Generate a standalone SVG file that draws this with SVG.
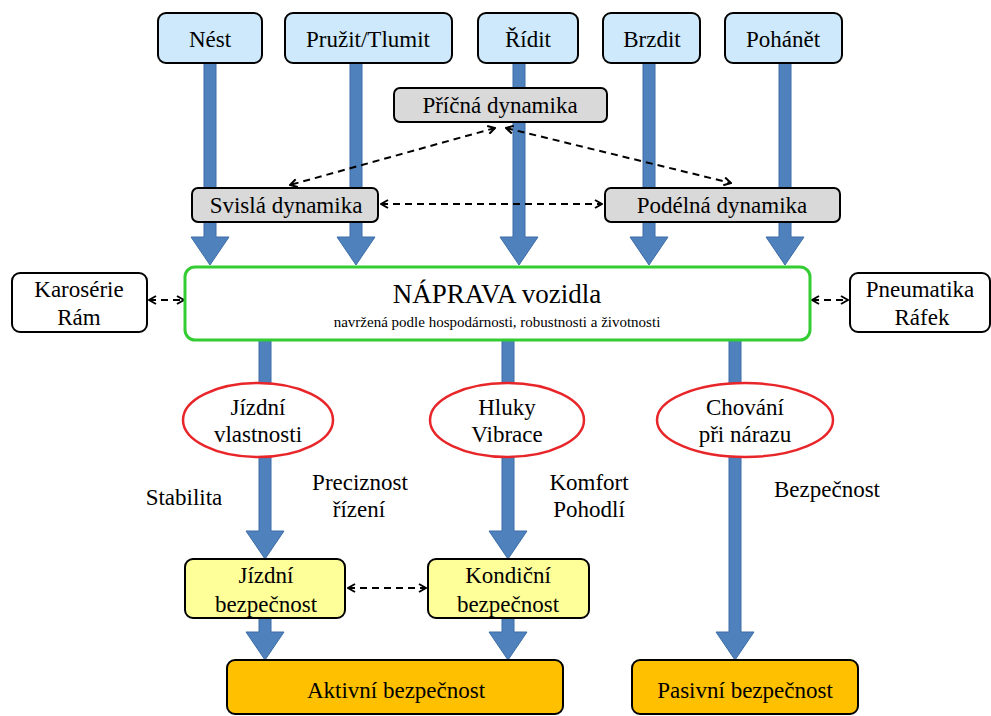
<svg xmlns="http://www.w3.org/2000/svg" width="991" height="716" viewBox="0 0 991 716">
<defs>
<marker id="ah" viewBox="0 0 10 10" refX="9" refY="5" markerWidth="10" markerHeight="10" orient="auto-start-reverse" markerUnits="userSpaceOnUse">
<path d="M2,1 L9,5 L2,9" fill="none" stroke="#000" stroke-width="2"/>
</marker>
</defs>
<rect width="991" height="716" fill="#fff"/>
<g id="connectors">
<g fill="#4f81bd" stroke="#3d6da6" stroke-width="1">
<path d="M204,63 h12 v174 h13 l-19,28 l-19,-28 h13 z"/>
<path d="M350,63 h12 v174 h13 l-19,28 l-19,-28 h13 z"/>
<path d="M513,63 h12 v174 h13 l-19,28 l-19,-28 h13 z"/>
<path d="M643,63 h12 v174 h13 l-19,28 l-19,-28 h13 z"/>
<path d="M779,63 h12 v174 h13 l-19,28 l-19,-28 h13 z"/>
<path d="M259,340 h12 v191 h13 l-19,28 l-19,-28 h13 z"/>
<path d="M502,340 h12 v191 h13 l-19,28 l-19,-28 h13 z"/>
<path d="M729,340 h12 v292 h13 l-19,28 l-19,-28 h13 z"/>
<path d="M259,618 h12 v14 h13 l-19,28 l-19,-28 h13 z"/>
<path d="M502,618 h12 v14 h13 l-19,28 l-19,-28 h13 z"/>
</g>
<g fill="none" stroke="#000" stroke-width="2" stroke-dasharray="7 5" marker-start="url(#ah)" marker-end="url(#ah)">
<path d="M495,128 L290,185"/>
<path d="M506,128 L731,183"/>
<path d="M381,204 L602,204"/>
<path d="M149,300 L184,300"/>
<path d="M812,300 L848,300"/>
<path d="M348,588 L426,588"/>
</g>
</g>
<g font-family="Liberation Serif" font-size="23" text-anchor="middle" fill="#000" stroke-width="2">
<g id="nest"><rect fill="#cde9fb" stroke="#000" x="158" y="13" width="104" height="50" rx="8"/><text x="210" y="47">Nést</text></g>
<g id="pruzit"><rect fill="#cde9fb" stroke="#000" x="285" y="13" width="167" height="50" rx="8"/><text x="368" y="47">Pružit/Tlumit</text></g>
<g id="ridit"><rect fill="#cde9fb" stroke="#000" x="478" y="13" width="100" height="50" rx="8"/><text x="528" y="47">Řídit</text></g>
<g id="brzdit"><rect fill="#cde9fb" stroke="#000" x="603" y="13" width="97" height="50" rx="8"/><text x="652" y="47">Brzdit</text></g>
<g id="pohanet"><rect fill="#cde9fb" stroke="#000" x="725" y="13" width="117" height="50" rx="8"/><text x="783" y="47">Pohánět</text></g>
<g id="pricna"><rect fill="#d9d9d9" stroke="#000" x="394" y="88" width="213" height="34" rx="6"/><text x="500" y="113">Příčná dynamika</text></g>
<g id="svisla"><rect fill="#d9d9d9" stroke="#000" x="192" y="188" width="186" height="34" rx="6"/><text x="286" y="213">Svislá dynamika</text></g>
<g id="podelna"><rect fill="#d9d9d9" stroke="#000" x="605" y="188" width="235" height="34" rx="6"/><text x="722" y="213">Podélná dynamika</text></g>
<g id="naprava"><rect x="185" y="267" width="625" height="73" rx="10" fill="#fff" stroke="#33cc33" stroke-width="3"/><text x="497" y="303" font-size="27">NÁPRAVA vozidla</text><text x="497" y="327" font-size="15">navržená podle hospodárnosti, robustnosti a životnosti</text></g>
<g id="karoserie"><rect fill="#fff" stroke="#000" x="12" y="273" width="135" height="59" rx="8"/><text x="79" y="297">Karosérie</text><text x="79" y="325">Rám</text></g>
<g id="pneumatika"><rect fill="#fff" stroke="#000" x="850" y="273" width="140" height="59" rx="8"/><text x="920" y="297">Pneumatika</text><text x="922" y="325">Ráfek</text></g>
<g id="jizdni-vlastnosti"><ellipse fill="#fff" stroke="#e8262a" stroke-width="2.5" cx="258" cy="420" rx="75" ry="37"/><text x="258" y="415">Jízdní</text><text x="258" y="442">vlastnosti</text></g>
<g id="hluky"><ellipse fill="#fff" stroke="#e8262a" stroke-width="2.5" cx="507" cy="420" rx="77" ry="37"/><text x="507" y="415">Hluky</text><text x="507" y="442">Vibrace</text></g>
<g id="chovani"><ellipse fill="#fff" stroke="#e8262a" stroke-width="2.5" cx="745" cy="420" rx="88" ry="37"/><text x="745" y="415">Chování</text><text x="745" y="442">při nárazu</text></g>
<g id="labels">
<text x="184" y="505">Stabilita</text>
<text x="360" y="490">Preciznost</text>
<text x="359" y="517">řízení</text>
<text x="589" y="490">Komfort</text>
<text x="589" y="517">Pohodlí</text>
<text x="827" y="497">Bezpečnost</text>
</g>
<g id="jizdni-bezpecnost"><rect fill="#ffff99" stroke="#000" x="185" y="559" width="160" height="59" rx="8"/><text x="266" y="583">Jízdní</text><text x="266" y="612">bezpečnost</text></g>
<g id="kondicni"><rect fill="#ffff99" stroke="#000" x="428" y="559" width="161" height="59" rx="8"/><text x="508" y="583">Kondiční</text><text x="508" y="612">bezpečnost</text></g>
<g id="aktivni"><rect fill="#ffc000" stroke="#000" x="227" y="660" width="336" height="54" rx="8"/><text x="396" y="698">Aktivní bezpečnost</text></g>
<g id="pasivni"><rect fill="#ffc000" stroke="#000" x="632" y="660" width="226" height="54" rx="8"/><text x="745" y="698">Pasivní bezpečnost</text></g>
</g>
</svg>
